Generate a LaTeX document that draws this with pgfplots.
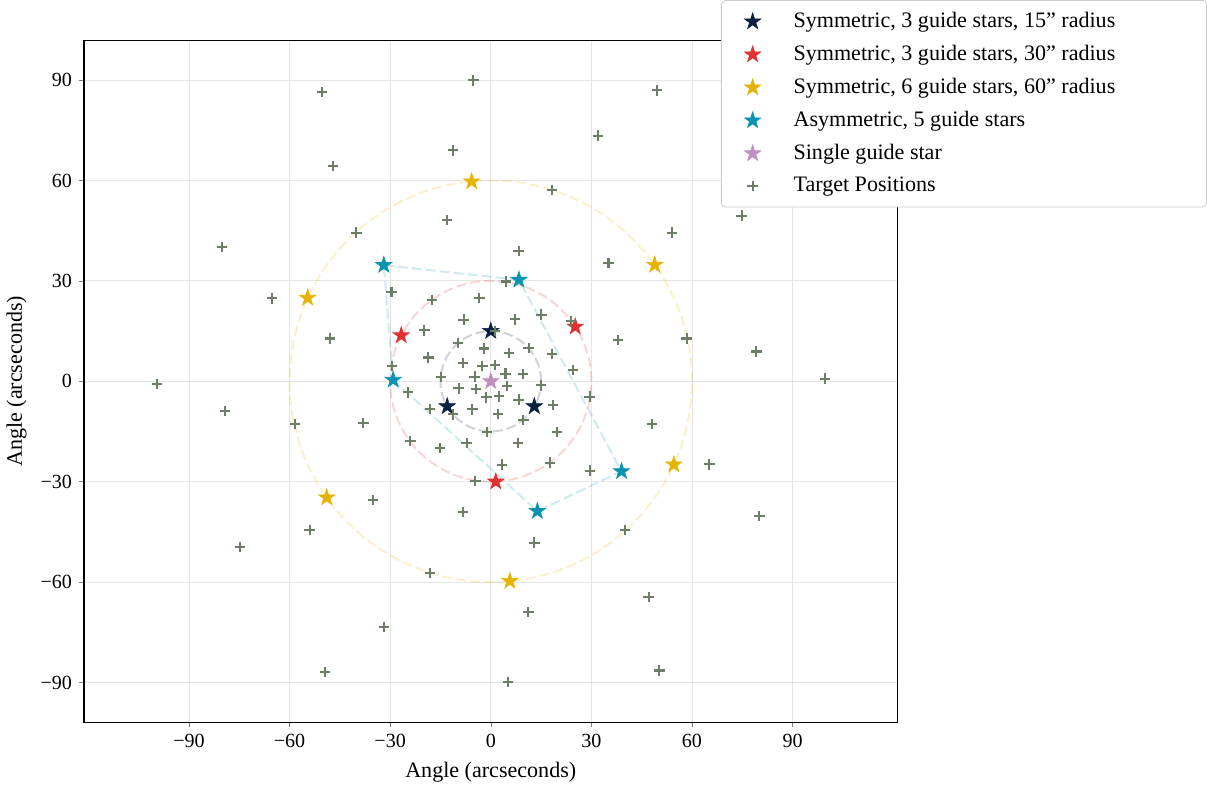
\documentclass[border=0pt]{standalone}
\usepackage{pgfplots}
\pgfplotsset{compat=1.18}
\usepackage{fontspec}
\setmainfont{Liberation Serif}
\definecolor{cnavy}{HTML}{0B1F3F}
\definecolor{cred}{HTML}{E03130}
\definecolor{cyellow}{HTML}{E6B400}
\definecolor{cteal}{HTML}{0A93B0}
\definecolor{cpurple}{HTML}{C08FC1}
\definecolor{ctarget}{HTML}{6C7E63}
\pgfdeclareplotmark{fstar}{%
  \pgfpathmoveto{\pgfpointpolar{90}{\pgfplotmarksize}}%
  \pgfpathlineto{\pgfpointpolar{126}{0.382\pgfplotmarksize}}%
  \pgfpathlineto{\pgfpointpolar{162}{\pgfplotmarksize}}%
  \pgfpathlineto{\pgfpointpolar{198}{0.382\pgfplotmarksize}}%
  \pgfpathlineto{\pgfpointpolar{234}{\pgfplotmarksize}}%
  \pgfpathlineto{\pgfpointpolar{270}{0.382\pgfplotmarksize}}%
  \pgfpathlineto{\pgfpointpolar{306}{\pgfplotmarksize}}%
  \pgfpathlineto{\pgfpointpolar{342}{0.382\pgfplotmarksize}}%
  \pgfpathlineto{\pgfpointpolar{18}{\pgfplotmarksize}}%
  \pgfpathlineto{\pgfpointpolar{54}{0.382\pgfplotmarksize}}%
  \pgfpathclose
  \pgfusepathqfillstroke}
\begin{document}
\begin{tikzpicture}
\begin{axis}[
  scale only axis, width=405.5pt, height=340pt,
  xmin=-121.3, xmax=121.3, ymin=-101.9, ymax=101.9,
  xtick={-90,-60,-30,0,30,60,90},
  ytick={-90,-60,-30,0,30,60,90},
  xticklabels={−90,−60,−30,0,30,60,90},
  yticklabels={−90,−60,−30,0,30,60,90},
  tick label style={font=\fontsize{10}{12}\selectfont},
  tick align=outside, major tick length=2.5pt,
  xtick pos=bottom, ytick pos=left,
  grid=major, grid style={black!10, line width=0.4pt},
  axis line style={line width=0.6pt},
  xlabel={Angle (arcseconds)}, ylabel={Angle (arcseconds)},
  label style={font=\fontsize{11}{13}\selectfont},
  legend style={at={(0.783,1.059)}, anchor=north west, draw=black!20,
    rounded corners=2pt, font=\fontsize{11}{13}\selectfont,
    row sep=3.3pt, inner xsep=11.5pt, inner ysep=4pt,
    /tikz/every odd column/.append style={column sep=14.3pt}},
  legend cell align=left,
]
\draw[cnavy, opacity=0.2, line width=1pt, dash pattern=on 5pt off 2pt] (axis cs:0,0) circle[radius=15];
\draw[cred, opacity=0.2, line width=1pt, dash pattern=on 5pt off 2pt] (axis cs:0,0) circle[radius=30];
\draw[cyellow, opacity=0.2, line width=1pt, dash pattern=on 5pt off 2pt] (axis cs:0,0) circle[radius=60];
\addplot[forget plot, cteal, opacity=0.2, line width=1pt, dash pattern=on 5pt off 2pt] coordinates {
 (-31.9,34.7) (8.4,30.3) (39.0,-26.9) (13.9,-38.8) (-29.1,0.4) (-31.9,34.7)};
\addplot[only marks, mark=fstar, mark size=4.3pt, mark options={fill=cnavy, draw=cnavy, line width=0.3pt}] coordinates {
 (0,15) (-12.99,-7.5) (12.99,-7.5)};
\addlegendentry{Symmetric, 3 guide stars, 15” radius\rule{32pt}{0pt}}
\addplot[only marks, mark=fstar, mark size=4.3pt, mark options={fill=cred, draw=cred, line width=0.3pt}] coordinates {
 (25.2,16.3) (-26.7,13.7) (1.5,-30.0)};
\addlegendentry{Symmetric, 3 guide stars, 30” radius}
\addplot[only marks, mark=fstar, mark size=4.3pt, mark options={fill=cyellow, draw=cyellow, line width=0.3pt}] coordinates {
 (-5.7,59.7) (48.9,34.75) (54.6,-24.9) (5.7,-59.7) (-48.9,-34.75) (-54.6,24.9)};
\addlegendentry{Symmetric, 6 guide stars, 60” radius}
\addplot[only marks, mark=fstar, mark size=4.3pt, mark options={fill=cteal, draw=cteal, line width=0.3pt}] coordinates {
 (-31.9,34.7) (8.4,30.3) (39.0,-26.9) (13.9,-38.8) (-29.1,0.4)};
\addlegendentry{Asymmetric, 5 guide stars}
\addplot[only marks, mark=fstar, mark size=4.3pt, mark options={fill=cpurple, draw=cpurple, line width=0.3pt}] coordinates {
 (0,0)};
\addlegendentry{Single guide star}
\addplot[only marks, mark=+, mark size=2.6pt, mark options={draw=ctarget, line width=1.05pt}] coordinates {
 (-5.2,89.9) (-50.3,86.4) (49.5,86.9) (-47.1,64.4) (-11.2,69.0) (31.9,73.4)
 (-13.0,48.2) (18.2,57.2) (74.8,49.5) (54.0,44.4) (-80.1,40.2) (-40.1,44.4)
 (8.3,39.0) (35.1,35.4) (-65.2,24.8) (-48.0,12.8) (-29.6,26.7) (-17.6,24.3)
 (-3.4,24.9) (4.6,29.8) (7.2,18.5) (15.1,19.9) (24.0,17.9) (38.0,12.4)
 (58.4,12.8) (79.2,8.9) (99.6,0.8) (5.5,8.4) (11.3,9.9) (18.2,8.2)
 (1.3,4.8) (4.4,2.3) (9.6,2.1) (24.6,3.3) (14.9,-1.2) (4.8,-1.4)
 (-8.1,18.4) (-19.8,15.2) (-9.7,11.5) (-2.1,9.8) (-18.6,7.1) (-8.3,5.5)
 (-2.5,4.5) (-29.5,4.6) (1.2,15.1)
 (5.2,-89.9) (50.3,-86.4) (-49.5,-86.9) (47.1,-64.4) (11.2,-69.0) (-31.9,-73.4)
 (13.0,-48.2) (-18.2,-57.2) (-74.8,-49.5) (-54.0,-44.4) (80.1,-40.2) (40.1,-44.4)
 (-8.3,-39.0) (-35.1,-35.4) (65.2,-24.8) (48.0,-12.8) (29.6,-26.7) (17.6,-24.3)
 (3.4,-24.9) (-4.6,-29.8) (-7.2,-18.5) (-15.1,-19.9) (-24.0,-17.9) (-38.0,-12.4)
 (-58.4,-12.8) (-79.2,-8.9) (-99.6,-0.8) (-5.5,-8.4) (-11.3,-9.9) (-18.2,-8.2)
 (-1.3,-4.8) (-4.4,-2.3) (-9.6,-2.1) (-24.6,-3.3) (-14.9,1.2) (-4.8,1.4)
 (8.1,-18.4) (19.8,-15.2) (9.7,-11.5) (2.1,-9.8) (18.6,-7.1) (8.3,-5.5)
 (2.5,-4.5) (29.5,-4.6) (-1.2,-15.1)};
\addlegendentry{Target Positions}
\end{axis}
\end{tikzpicture}
\end{document}
